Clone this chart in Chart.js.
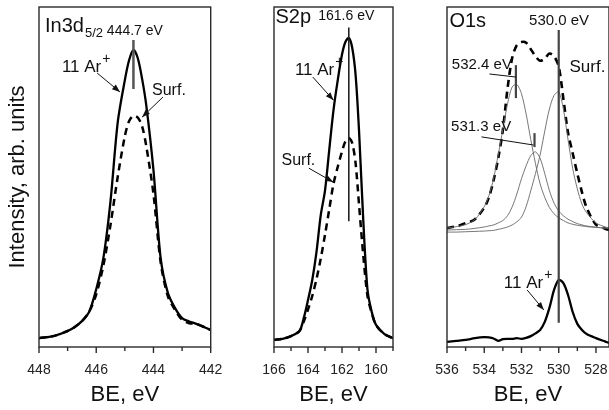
<!DOCTYPE html>
<html>
<head>
<meta charset="utf-8">
<script src="https://cdn.jsdelivr.net/npm/chart.js@4.4.1/dist/chart.umd.min.js"></script>
<style>
  body { margin: 0; background: #fff; overflow: hidden; }
  #wrap { position: relative; width: 609px; height: 410px; overflow: hidden; }
  canvas { position: absolute; left: 0; top: 0; }
</style>
</head>
<body>
<div id="wrap">
  <canvas id="inChart" width="640" height="410"></canvas>
  <canvas id="sChart" width="640" height="410"></canvas>
  <canvas id="oChart" width="640" height="410"></canvas>
</div>
<script>
// In3d5/2
var inBE = [448, 447.5, 447, 446.75, 446.5, 446.25, 446, 445.75, 445.5, 445.25, 445, 444.85, 444.7, 444.55, 444.4, 444.25, 444, 443.75, 443.5, 443.25, 443, 442.75, 442.5, 442];
var inAr = [2.6, 3.2, 4.7, 5.9, 7.6, 10.3, 17, 26.2, 43, 66, 78.5, 84.4, 87.4, 85, 79, 71, 52, 26.2, 16, 11.5, 8.5, 7.5, 6.8, 5];
var inSurf = [2.6, 3.2, 4.7, 5.9, 7.6, 10.3, 15.5, 24, 36, 50, 62, 66.5, 68, 67.5, 65, 59, 45, 25, 15, 11, 8, 7, 6.8, 5];
var inMarkBE = [444.7];
var inMarkTop = [90.3];
var inMarkBottom = [75.9];

// S2p
var sBE = [166, 165.5, 165, 164.5, 164.25, 164, 163.75, 163.5, 163.25, 163, 162.75, 162.5, 162.25, 162, 161.8, 161.6, 161.4, 161.2, 161, 160.75, 160.5, 160.25, 160, 159.5, 159];
var sAr = [2.1, 2.4, 3.2, 4.7, 8.5, 13.8, 19.7, 28, 38.8, 46, 58, 69.7, 78.5, 86, 89.7, 90.9, 88, 80, 63.8, 37.4, 16.8, 10.3, 6.5, 3.8, 2.6];
var sSurf = [2.1, 2.4, 3.2, 4.7, 7.5, 11, 15, 20, 26, 33, 40.5, 48, 53, 57.5, 60.5, 61.5, 60, 54, 42, 27, 15, 10, 6.5, 3.8, 2.6];
var sMarkBE = [161.6];
var sMarkTop = [94];
var sMarkBottom = [37];

// O1s
var oBE = [536, 535.5, 535, 534.5, 534, 533.75, 533.5, 533.25, 533, 532.75, 532.5, 532.25, 532, 531.75, 531.5, 531.25, 531, 530.75, 530.5, 530.25, 530, 529.75, 529.5, 529.25, 529, 528.75, 528.5, 528, 527.5, 527.3];
var oAr = [1.5, 1.8, 2.1, 2.6, 2.9, 2.8, 2.5, 1.8, 2.3, 2.4, 2.4, 2.6, 2.4, 2.7, 3.2, 4, 5, 7.4, 11.5, 16.8, 19.7, 18.8, 15.3, 10.3, 6.8, 5, 3.8, 2.6, 1.6, 1.2];
var oSurf = [35, 35.5, 36.4, 37.6, 41, 44, 49, 55.5, 63.8, 76, 85, 88.8, 89.7, 89.5, 87.6, 85.5, 84.2, 84.8, 86.3, 85.5, 82.5, 73, 63, 57, 51, 45.5, 41, 36, 34.8, 34.4];
var oPeak532 = [35, 35.4, 36, 37.5, 41.3, 44.5, 49.5, 56.5, 64, 71.5, 76.5, 77.2, 74.5, 68.5, 61, 54, 48, 44, 41, 39.2, 38, 37.2, 36.5, 36.1, 35.8, 35.6, 35.4, 35.2, 35, 35];
var oPeak531 = [34.4, 34.5, 34.6, 34.9, 35.3, 35.6, 35.9, 36.5, 37.2, 38.6, 41.2, 45, 49.5, 53.3, 56.3, 57.4, 55.5, 51, 46, 42.3, 40, 38.6, 37.6, 36.9, 36.3, 35.9, 35.6, 35.2, 35, 35];
var oPeak530 = [33.8, 33.8, 33.9, 34, 34.1, 34.2, 34.3, 34.6, 34.9, 35.3, 35.9, 36.8, 38.2, 41.3, 46, 51, 56.5, 63.5, 70, 74, 75, 70, 61, 52.5, 46.5, 42, 39.5, 36.5, 35.3, 35];
var oMarkBE = [532.3, 531.3, 530.0];
var oMarkTop = [82.9, 62.9, 93.2];
var oMarkBottom = [73.2, 58.8, 7.1];

var FONT = "'Liberation Sans', Arial, sans-serif";
Chart.defaults.font.family = FONT;
Chart.defaults.color = "#222";

function pts(xs, ys) {
  var out = [];
  for (var i = 0; i < xs.length; i++) out.push({ x: xs[i], y: ys[i] });
  return out;
}

function curve(xs, ys, width, color, dash) {
  return {
    data: pts(xs, ys),
    borderColor: color,
    borderWidth: width,
    borderDash: dash || [],
    pointRadius: 0,
    tension: 0.3,
    fill: false
  };
}

function markers(be, top, bottom, width, color) {
  var list = [];
  for (var i = 0; i < be.length; i++) {
    list.push({
      data: [{ x: be[i], y: bottom[i] }, { x: be[i], y: top[i] }],
      borderColor: color,
      borderWidth: width,
      pointRadius: 0
    });
  }
  return list;
}

// frame, ticks, labels and arrows
var notesPlugin = {
  id: "notes",
  afterDatasetsDraw: function (chart, args, opts) {
    var ctx = chart.ctx;
    var xs = chart.scales.x;
    var ys = chart.scales.y;
    var a = chart.chartArea;
    ctx.save();
    ctx.strokeStyle = "#2a2a2a";
    ctx.lineWidth = 1.4;
    ctx.strokeRect(a.left, a.top, a.right - a.left, a.bottom - a.top);
    xs.ticks.forEach(function (t) {
      var px = xs.getPixelForValue(t.value);
      var len = t.value % 2 === 0 ? 6 : 4;
      ctx.beginPath();
      ctx.moveTo(px, a.bottom);
      ctx.lineTo(px, a.bottom + len);
      ctx.stroke();
    });

    (opts.lines || []).forEach(function (l) {
      var x1 = xs.getPixelForValue(l.x1), y1 = ys.getPixelForValue(l.y1);
      var x2 = xs.getPixelForValue(l.x2), y2 = ys.getPixelForValue(l.y2);
      ctx.strokeStyle = "#111";
      ctx.fillStyle = "#111";
      ctx.lineWidth = 1;
      ctx.beginPath();
      ctx.moveTo(x1, y1);
      ctx.lineTo(x2, y2);
      ctx.stroke();
      if (l.head) {
        var ang = Math.atan2(y2 - y1, x2 - x1);
        ctx.beginPath();
        ctx.moveTo(x2, y2);
        ctx.lineTo(x2 - 8 * Math.cos(ang) + 3 * Math.sin(ang), y2 - 8 * Math.sin(ang) - 3 * Math.cos(ang));
        ctx.lineTo(x2 - 8 * Math.cos(ang) - 3 * Math.sin(ang), y2 - 8 * Math.sin(ang) + 3 * Math.cos(ang));
        ctx.closePath();
        ctx.fill();
      }
    });

    (opts.texts || []).forEach(function (t) {
      var px = xs.getPixelForValue(t.x);
      var py = ys.getPixelForValue(t.y);
      ctx.fillStyle = "#111";
      ctx.textBaseline = "alphabetic";
      ctx.textAlign = t.align || "left";
      ctx.font = t.size + "px " + FONT;
      ctx.fillText(t.text, px, py);
      var w = ctx.measureText(t.text).width;
      if (t.sub) {
        ctx.textAlign = "left";
        ctx.font = "13px " + FONT;
        ctx.fillText(t.sub, px + w + 1, py + 5);
      }
      if (t.sup) {
        ctx.textAlign = "left";
        ctx.font = "14px " + FONT;
        ctx.fillText(t.sup, px + w + 1, py - 9);
      }
    });
    ctx.restore();
  }
};

function makeChart(id, xmin, xmax, padLeft, padRight, showY, datasets, notes) {
  return new Chart(document.getElementById(id), {
    type: "line",
    data: { datasets: datasets },
    options: {
      responsive: false,
      animation: false,
      layout: { padding: { left: padLeft, right: padRight, top: 7, bottom: 0 } },
      plugins: { legend: { display: false }, tooltip: { enabled: false }, notes: notes },
      scales: {
        x: {
          type: "linear",
          reverse: true,
          min: xmin,
          max: xmax,
          grid: { display: false },
          border: { display: false },
          ticks: {
            stepSize: 1,
            includeBounds: false,
            autoSkip: false,
            maxRotation: 0,
            padding: 7,
            color: "#222",
            font: { size: 14 },
            callback: function (v) { return v % 2 === 0 ? String(v) : ""; }
          },
          title: { display: true, text: "BE, eV", color: "#111", font: { size: 22 }, padding: { top: 0, bottom: 2 } },
          afterFit: function (scale) { scale.height = 63; }
        },
        y: {
          display: showY,
          min: 0,
          max: 100,
          grid: { display: false },
          border: { display: false },
          ticks: { display: false },
          title: { display: showY, text: "Intensity, arb. units", color: "#111", font: { size: 22 }, padding: { top: 5, bottom: 0 } },
          afterFit: function (scale) { scale.width = 39; }
        }
      }
    },
    plugins: [notesPlugin]
  });
}

makeChart("inChart", 442, 448, 0, 429.3, true,
  markers(inMarkBE, inMarkTop, inMarkBottom, 2.5, "#555").concat([
    curve(inBE, inAr, 2.3, "#000"),
    curve(inBE, inSurf, 2.5, "#000", [7, 5])
  ]),
  {
    texts: [
      { text: "In3d", sub: "5/2", x: 447.79, y: 92.6, size: 20 },
      { text: "444.7 eV", x: 444.65, y: 91.8, size: 14, align: "center" },
      { text: "11 Ar", sup: "+", x: 447.2, y: 80.9, size: 17 },
      { text: "Surf.", x: 444.05, y: 74.1, size: 16 }
    ],
    lines: [
      { x1: 445.97, y1: 80.6, x2: 445.17, y2: 75.0, head: true },
      { x1: 443.67, y1: 73.5, x2: 444.4, y2: 67.6, head: true }
    ]
  });

makeChart("sChart", 159, 166, 235, 247, false,
  markers(sMarkBE, sMarkTop, sMarkBottom, 1.6, "#222").concat([
    curve(sBE, sAr, 2.3, "#000"),
    curve(sBE, sSurf, 2.5, "#000", [7, 5])
  ]),
  {
    texts: [
      { text: "S2p", x: 165.91, y: 95.3, size: 20 },
      { text: "161.6 eV", x: 161.75, y: 96.2, size: 14, align: "center" },
      { text: "11 Ar", sup: "+", x: 164.77, y: 80, size: 17 },
      { text: "Surf.", x: 165.56, y: 53.5, size: 16 }
    ],
    lines: [
      { x1: 163.72, y1: 79.4, x2: 162.5, y2: 72.6, head: true },
      { x1: 163.95, y1: 52.6, x2: 162.52, y2: 48.5, head: true }
    ]
  });

makeChart("oChart", 527.3, 536, 408, 31, false,
  markers(oMarkBE, oMarkTop, oMarkBottom, 2.2, "#444").concat([
    curve(oBE, oPeak532, 0.9, "#666"),
    curve(oBE, oPeak531, 0.9, "#666"),
    curve(oBE, oPeak530, 0.9, "#666"),
    curve(oBE, oSurf, 2.6, "#000", [7, 5]),
    curve(oBE, oAr, 2.3, "#000")
  ]),
  {
    texts: [
      { text: "O1s", x: 535.87, y: 94.1, size: 20 },
      { text: "530.0 eV", x: 529.98, y: 94.7, size: 15, align: "center" },
      { text: "Surf.", x: 529.42, y: 80.9, size: 17 },
      { text: "532.4 eV", x: 535.74, y: 81.8, size: 15 },
      { text: "531.3 eV", x: 535.78, y: 63.5, size: 15 },
      { text: "11 Ar", sup: "+", x: 532.95, y: 17.4, size: 17 }
    ],
    lines: [
      { x1: 533.72, y1: 80.3, x2: 532.3, y2: 79.4, head: false },
      { x1: 534.15, y1: 61.8, x2: 531.35, y2: 59.4, head: false },
      { x1: 531.7, y1: 16.8, x2: 530.8, y2: 10.9, head: true }
    ]
  });
</script>
</body>
</html>
